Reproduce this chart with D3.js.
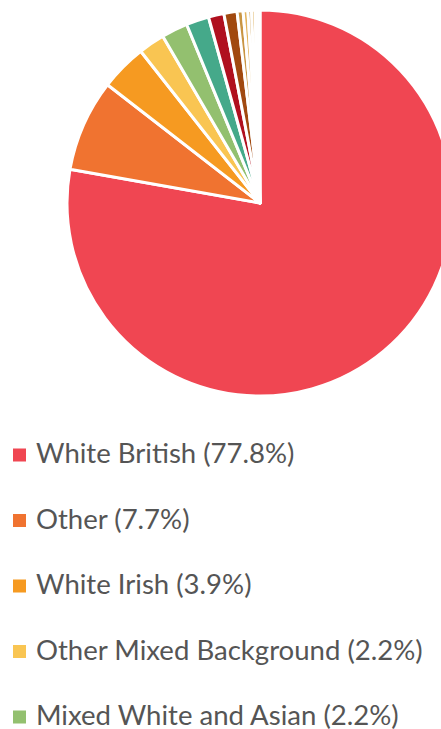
<!DOCTYPE html>
<html>
<head>
<meta charset="utf-8">
<script src="https://cdn.jsdelivr.net/npm/d3@7"></script>
<style>
  html, body { margin: 0; padding: 0; background: #fff; overflow: hidden; }
  svg { display: block; }
</style>
</head>
<body>
<svg id="chart" width="441" height="729"></svg>
<script>
const categories = [
  "White British", "Other", "White Irish", "Other Mixed Background",
  "Mixed White and Asian", "Mixed White and Black Caribbean", "Indian",
  "Mixed White and Black African", "Pakistani", "Chinese", "Other Asian",
  "Black African", "Black Caribbean", "Bangladeshi"
];
const values = [77.8, 7.7, 3.9, 2.2, 2.2, 1.9, 1.3, 1.1, 0.5, 0.4, 0.3, 0.3, 0.2, 0.2];
const colors = [
  "#f04652", "#f07330", "#f69a21", "#f9c552", "#93c06f", "#45a98a",
  "#b0101f", "#a1490f", "#c99543", "#e3b35c", "#c6913a", "#d9a94f",
  "#f0c676", "#c9a060"
];

const svg = d3.select("#chart");
const cx = 260, cy = 203, r = 193;

const data = categories.map((c, i) => ({ name: c, value: values[i], color: colors[i] }));
const pie = d3.pie().sort(null).value(d => d.value);
const arc = d3.arc().innerRadius(0).outerRadius(r);

svg.append("g")
  .attr("transform", `translate(${cx},${cy})`)
  .selectAll("path")
  .data(pie(data))
  .join("path")
  .attr("d", arc)
  .attr("fill", d => d.data.color)
  .attr("stroke", "#fff")
  .attr("stroke-width", 3)
  .attr("stroke-linejoin", "round");

// Legend: the full list continues below the visible window, as in the reference
const legendTop = 455, rowGap = 65.5;
const lg = svg.append("g");
const rows = lg.selectAll("g")
  .data(data)
  .join("g")
  .attr("transform", (d, i) => `translate(0,${legendTop + i * rowGap})`);

rows.append("rect")
  .attr("x", 13).attr("y", -6.5)
  .attr("width", 13).attr("height", 13)
  .attr("fill", d => d.color);

const texts = rows.append("text")
  .attr("x", 36).attr("y", 8)
  .attr("fill", "#555")
  .style("font-family", "Lato, 'Open Sans', sans-serif")
  .style("font-size", "26px")
  .text(d => `${d.name} (${d.value.toFixed(1)}%)`);

// fit font so the longest visible label matches the reference width
const ref = texts.filter((d, i) => i === 3).node();
const w = ref.getComputedTextLength();
const fs = 26 * 387 / w;
texts.style("font-size", fs + "px");
</script>
</body>
</html>
